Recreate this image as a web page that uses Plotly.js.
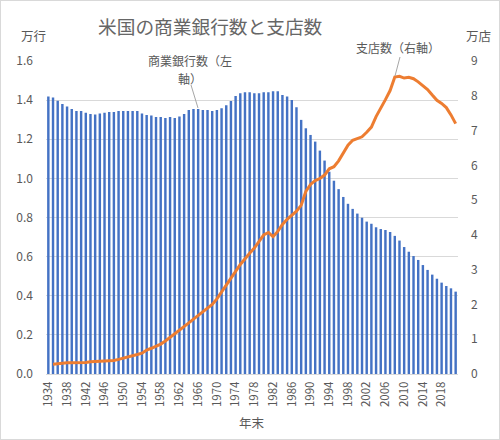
<!DOCTYPE html>
<html>
<head>
<meta charset="utf-8">
<script src="https://cdn.plot.ly/plotly-3.0.1.min.js"></script>
<style>
  html, body { margin: 0; padding: 0; background: #fff; }
  #chart { width: 500px; height: 440px; box-sizing: border-box; border: 1px solid #D9D9D9; }
</style>
</head>
<body>
<div id="chart"></div>
<script>
// Years (year-end), 1934–2021
const years = [
  "1934","1935","1936","1937","1938","1939","1940","1941","1942","1943",
  "1944","1945","1946","1947","1948","1949","1950","1951","1952","1953",
  "1954","1955","1956","1957","1958","1959","1960","1961","1962","1963",
  "1964","1965","1966","1967","1968","1969","1970","1971","1972","1973",
  "1974","1975","1976","1977","1978","1979","1980","1981","1982","1983",
  "1984","1985","1986","1987","1988","1989","1990","1991","1992","1993",
  "1994","1995","1996","1997","1998","1999","2000","2001","2002","2003",
  "2004","2005","2006","2007","2008","2009","2010","2011","2012","2013",
  "2014","2015","2016","2017","2018","2019","2020","2021"
];

// Number of commercial banks (万行), left axis
const banks = [
  1.418,1.413,1.397,1.380,1.367,1.355,1.345,1.345,1.336,1.329,
  1.326,1.331,1.336,1.339,1.339,1.345,1.345,1.345,1.345,1.345,
  1.331,1.324,1.321,1.314,1.314,1.309,1.314,1.309,1.316,1.329,
  1.350,1.355,1.355,1.350,1.350,1.345,1.350,1.358,1.374,1.396,
  1.421,1.435,1.440,1.440,1.435,1.435,1.440,1.440,1.445,1.445,
  1.426,1.418,1.401,1.363,1.299,1.256,1.222,1.188,1.142,1.091,
  1.034,0.988,0.945,0.905,0.870,0.844,0.820,0.799,0.779,0.768,
  0.750,0.741,0.736,0.726,0.706,0.682,0.649,0.625,0.603,0.583,
  0.557,0.532,0.508,0.487,0.467,0.450,0.438,0.421
];

// Number of branches (万店), right axis, 1935–2021
const branchYears = years.slice(1);
const branches = [
  0.28,0.30,0.31,0.32,0.32,0.32,0.32,0.33,0.35,
  0.36,0.36,0.36,0.37,0.39,0.42,0.45,0.48,0.52,0.56,
  0.60,0.69,0.74,0.80,0.86,0.95,1.05,1.15,1.25,1.35,
  1.47,1.58,1.68,1.78,1.88,2.00,2.16,2.35,2.55,2.75,
  2.95,3.15,3.32,3.47,3.62,3.80,4.00,4.07,3.95,4.10,
  4.30,4.45,4.58,4.68,4.85,5.25,5.45,5.56,5.62,5.72,
  5.90,5.96,6.13,6.35,6.58,6.72,6.77,6.82,6.95,7.10,
  7.40,7.63,7.89,8.15,8.54,8.56,8.51,8.53,8.49,8.40,
  8.28,8.18,8.02,7.87,7.78,7.66,7.45,7.20
];

const xTicks = ["1934","1938","1942","1946","1950","1954","1958","1962","1966","1970",
                "1974","1978","1982","1986","1990","1994","1998","2002","2006","2010","2014","2018"];
const leftTicks = [0,0.2,0.4,0.6,0.8,1.0,1.2,1.4,1.6];
const rightTicks = [0,1,2,3,4,5,6,7,8,9];

const FONT = '"Noto Sans CJK JP", "Noto Sans", sans-serif';
const GREY = '#595959';

// plot-area geometry (px inside the 498x438 figure)
const L = 45, T = 60, W = 412, H = 313;
const px = x => (x - 1 - L) / W;          // page px -> paper x
const py = y => (T + H - (y - 1)) / H;    // page px -> paper y

const data = [
  {
    type: 'bar', x: years, y: banks, name: '商業銀行数',
    marker: { color: '#4472C4' }, yaxis: 'y'
  },
  {
    type: 'scatter', mode: 'lines', x: branchYears, y: branches, name: '支店数',
    line: { color: '#ED7D31', width: 3 }, yaxis: 'y2'
  }
];

const layout = {
  width: 498, height: 438,
  margin: { l: L, r: 498 - L - W, t: T, b: 438 - T - H },
  paper_bgcolor: '#fff', plot_bgcolor: '#fff',
  showlegend: false,
  bargap: 0.48,
  font: { family: FONT, color: GREY, size: 12 },
  title: {
    text: '米国の商業銀行数と支店数',
    font: { family: FONT, size: 18.7, color: '#666666' },
    xref: 'container', yref: 'container',
    x: 0.42, xanchor: 'center', y: 1 - 26/438, yanchor: 'middle'
  },
  xaxis: {
    type: 'category', categoryorder: 'array', categoryarray: years,
    tickmode: 'array', tickvals: xTicks, ticktext: xTicks,
    tickangle: -90, tickfont: { family: FONT, size: 11.5, color: GREY },
    showgrid: false, showline: true, linecolor: '#D9D9D9', linewidth: 1,
    ticks: '', ticklen: 0, ticklabelstandoff: 2,
    range: [-0.5, years.length - 0.5]
  },
  yaxis: {
    range: [0, 1.6], tickmode: 'array', tickvals: leftTicks,
    ticktext: leftTicks.map(v => v.toFixed(1)),
    tickfont: { family: FONT, size: 12, color: GREY },
    showgrid: true, gridcolor: '#D9D9D9', gridwidth: 1,
    zeroline: false, showline: false, ticks: '', ticklabelstandoff: 12
  },
  yaxis2: {
    overlaying: 'y', side: 'right', range: [0, 9],
    tickmode: 'array', tickvals: rightTicks, ticktext: rightTicks.map(String),
    tickfont: { family: FONT, size: 12, color: GREY },
    showgrid: false, zeroline: false, showline: false, ticks: '', ticklabelstandoff: 12
  },
  shapes: [
    { type: 'line', xref: 'paper', yref: 'paper', x0: px(191), y0: py(85), x1: px(198), y1: py(108),
      line: { color: '#A6A6A6', width: 1 } },
    { type: 'line', xref: 'paper', yref: 'paper', x0: px(400), y0: py(57), x1: px(395), y1: py(76),
      line: { color: '#A6A6A6', width: 1 } }
  ],
  annotations: [
    { text: '万行', xref: 'paper', yref: 'paper', x: px(33), y: py(35),
      xanchor: 'center', yanchor: 'middle', showarrow: false, font: { size: 12.5, color: GREY } },
    { text: '万店', xref: 'paper', yref: 'paper', x: px(478), y: py(35),
      xanchor: 'center', yanchor: 'middle', showarrow: false, font: { size: 12.5, color: GREY } },
    { text: '年末', xref: 'paper', yref: 'paper', x: px(252), y: py(422),
      xanchor: 'center', yanchor: 'middle', showarrow: false, font: { size: 12.5, color: GREY } },
    { text: '商業銀行数（左', xref: 'paper', yref: 'paper', x: px(190), y: py(60),
      xanchor: 'center', yanchor: 'middle', showarrow: false, font: { size: 12, color: GREY } },
    { text: '軸）', xref: 'paper', yref: 'paper', x: px(190), y: py(79),
      xanchor: 'center', yanchor: 'middle', showarrow: false, font: { size: 12, color: GREY } },
    { text: '支店数（右軸）', xref: 'paper', yref: 'paper', x: px(398), y: py(47),
      xanchor: 'center', yanchor: 'middle', showarrow: false, font: { size: 12, color: GREY } }
  ]
};

Plotly.newPlot('chart', data, layout, { displayModeBar: false, staticPlot: true });
</script>
</body>
</html>
